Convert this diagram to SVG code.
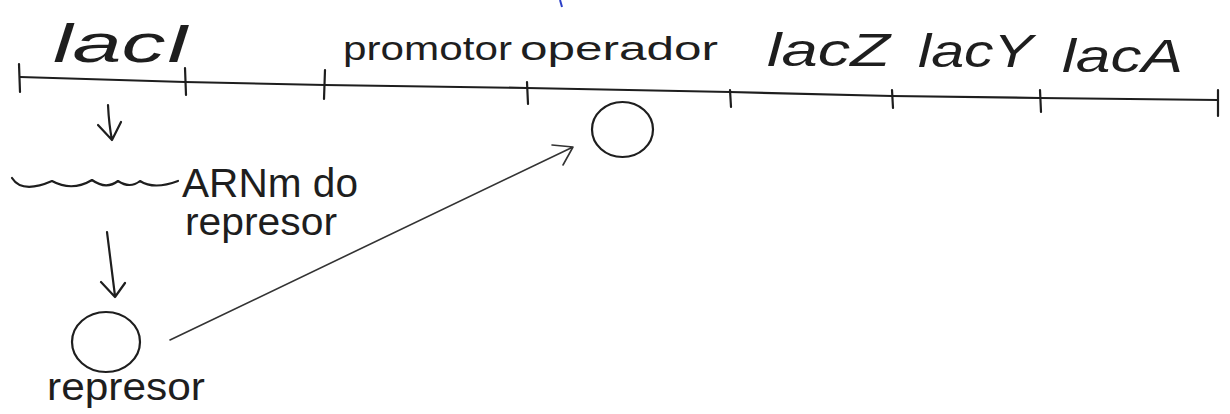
<svg xmlns="http://www.w3.org/2000/svg" width="1230" height="414" viewBox="0 0 1230 414">
<style>
.ink{fill:none;stroke:#1e1e1e;stroke-width:2.2;stroke-linecap:round;stroke-linejoin:round}
.thin{fill:none;stroke:#333;stroke-width:1.6;stroke-linecap:round;stroke-linejoin:round}
.lbl{font-family:"Liberation Sans","DejaVu Sans",sans-serif;fill:#1e1e1e}
.cur{font-style:italic}
</style>
<rect width="1230" height="414" fill="#ffffff"/>
<g id="gene-map">
<polyline class="ink" points="20,77 185,82 325,85 527,88 730,92 892,96 1040,98 1218,100"/>
<path class="ink" d="M19,64 L20,92 M185,68 L186,95 M325,70 L324,99 M527,82 L528,104 M730,90 L731,107 M892,90 L893,108 M1040,90 L1041,112 M1218,90 L1218,116"/>
<path d="M560,0 L562,7" stroke="#2b3fc7" stroke-width="2" fill="none"/>
</g>
<g id="gene-labels">
<text class="lbl cur" x="53" y="62" font-size="54" textLength="137" lengthAdjust="spacingAndGlyphs">lacI</text>
<text class="lbl" x="343" y="60" font-size="34" textLength="169" lengthAdjust="spacingAndGlyphs">promotor</text>
<text class="lbl" x="520" y="60" font-size="34" textLength="198" lengthAdjust="spacingAndGlyphs">operador</text>
<text class="lbl cur" x="767" y="66" font-size="46" textLength="123" lengthAdjust="spacingAndGlyphs">lacZ</text>
<text class="lbl cur" x="918" y="67" font-size="46" textLength="115" lengthAdjust="spacingAndGlyphs">lacY</text>
<text class="lbl cur" x="1062" y="72" font-size="46" textLength="121" lengthAdjust="spacingAndGlyphs">lacA</text>
</g>
<g id="mrna">
<path class="ink" d="M12,178 Q22,194 52,181 Q72,192 92,180 Q106,190 118,181 Q130,189 140,181 Q154,190 178,181"/>
<text class="lbl" x="182" y="197" font-size="40" textLength="176" lengthAdjust="spacingAndGlyphs">ARNm do</text>
<text class="lbl" x="185" y="235" font-size="38" textLength="152" lengthAdjust="spacingAndGlyphs">represor</text>
</g>
<g id="repressor">
<ellipse class="ink" cx="106" cy="342" rx="34" ry="30"/>
<text class="lbl" x="47" y="400" font-size="38" textLength="158" lengthAdjust="spacingAndGlyphs">represor</text>
</g>
<g id="operator">
<ellipse class="ink" cx="622.5" cy="129.5" rx="30.5" ry="27.5"/>
</g>
<g id="connectors">
<path class="ink" d="M108,105 Q109,125 112,140 M98,125 L112,140 L121,122"/>
<path class="ink" d="M107,232 Q111,264 115,296 M101,282 L115,297 L125,283"/>
<path class="thin" d="M170,340 L573,147 M552,145 L573,147 L563,165"/>
</g>
</svg>
